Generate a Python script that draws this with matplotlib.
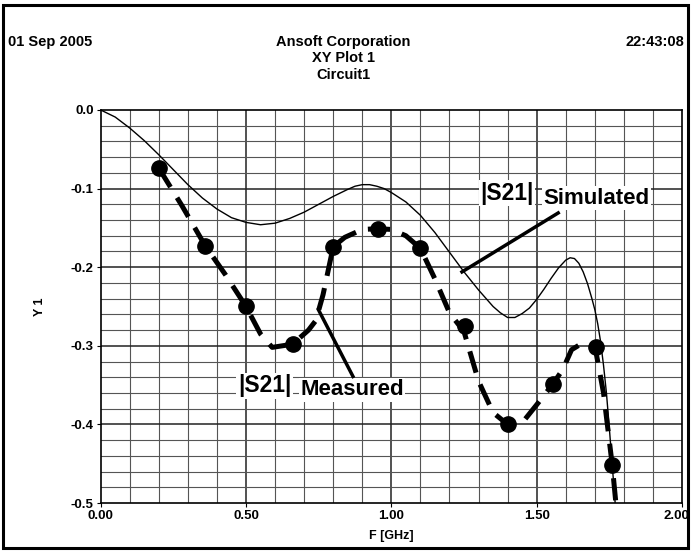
import numpy as np
import matplotlib
matplotlib.use('Agg')
import matplotlib.pyplot as plt
from matplotlib.patches import Rectangle
from matplotlib.transforms import ScaledTranslation

plt.rcParams['font.family'] = ['Liberation Sans', 'DejaVu Sans']
plt.rcParams['font.weight'] = 'bold'
plt.rcParams['lines.scale_dashes'] = False

# simulated |S21| (thin solid curve)
sim_f = [0.00, 0.05, 0.10, 0.15, 0.20, 0.25, 0.30, 0.35, 0.40, 0.45, 0.50, 0.55,
         0.60, 0.65, 0.70, 0.75, 0.80, 0.85, 0.875, 0.90, 0.925, 0.95, 0.975,
         1.00, 1.05, 1.10, 1.15, 1.20, 1.25, 1.30, 1.35, 1.375, 1.40, 1.425,
         1.45, 1.475, 1.50, 1.525, 1.55, 1.575, 1.60, 1.615, 1.63, 1.645, 1.66,
         1.675, 1.69, 1.70, 1.71, 1.72, 1.73, 1.74, 1.75, 1.76, 1.77]
sim_y = [0.000, -0.009, -0.023, -0.039, -0.057, -0.076, -0.095, -0.112, -0.126,
         -0.137, -0.143, -0.146, -0.144, -0.138, -0.130, -0.120, -0.110, -0.101,
         -0.097, -0.095, -0.095, -0.097, -0.100, -0.105, -0.117, -0.134, -0.156,
         -0.181, -0.206, -0.229, -0.250, -0.258, -0.264, -0.264, -0.259, -0.252,
         -0.241, -0.228, -0.214, -0.201, -0.191, -0.188, -0.189, -0.195, -0.206,
         -0.221, -0.240, -0.254, -0.272, -0.295, -0.325, -0.360, -0.405, -0.452,
         -0.500]

# measured |S21| (thick dashed curve through the dots)
meas_f = [0.20, 0.28, 0.36, 0.43, 0.50, 0.55, 0.59, 0.66, 0.715, 0.74, 0.765,
          0.80, 0.84, 0.90, 0.955, 1.00, 1.05, 1.10, 1.15, 1.20, 1.25, 1.30,
          1.35, 1.40, 1.45, 1.50, 1.555, 1.59, 1.62, 1.66, 1.70, 1.73, 1.76, 1.775]
meas_y = [-0.074, -0.122, -0.173, -0.210, -0.250, -0.285, -0.302, -0.298, -0.280,
          -0.268, -0.235, -0.174, -0.162, -0.152, -0.151, -0.152, -0.160, -0.176,
          -0.215, -0.258, -0.282, -0.345, -0.385, -0.400, -0.398, -0.375, -0.349,
          -0.330, -0.305, -0.296, -0.300, -0.360, -0.452, -0.510]

# measured sample points
pt_f = [0.20, 0.36, 0.50, 0.66, 0.80, 0.955, 1.10, 1.254, 1.40, 1.555, 1.705, 1.76]
pt_y = [-0.074, -0.173, -0.250, -0.298, -0.174, -0.151, -0.176, -0.275, -0.400,
        -0.349, -0.302, -0.452]

fig = plt.figure(figsize=(6.91, 5.51), dpi=100)
ax = fig.add_axes([0.1457, 0.0871, 0.8413, 0.7133])

# grid
for v in np.arange(0.1, 2.0, 0.1):
    major = abs(v / 0.5 - round(v / 0.5)) < 1e-6
    ax.axvline(v, color='#222222' if major else '#555555',
               lw=1.1 if major else 0.8, zorder=0)
for v in np.arange(-0.48, 0.0, 0.02):
    major = abs(v / 0.1 - round(v / 0.1)) < 1e-6
    ax.axhline(v, color='#222222' if major else '#555555',
               lw=1.1 if major else 0.8, zorder=0)

ax.plot(sim_f, sim_y, color='black', lw=1.0, zorder=3)
ax.plot(meas_f, meas_y, color='black', lw=3.6, dashes=(16, 9), zorder=3,
        dash_capstyle='butt')
ax.plot(pt_f, pt_y, 'o', color='black', ms=11, zorder=4)

# annotations
box = dict(facecolor='white', edgecolor='none', pad=1)
ax.text(1.305, -0.106, '|S21|', fontsize=16.5, ha='left', va='center', bbox=box, zorder=5)
ax.text(1.522, -0.112, 'Simulated', fontsize=16, ha='left', va='center', bbox=box, zorder=5)
ax.plot([1.574, 1.243], [-0.131, -0.206], color='black', lw=2.5, zorder=5)

ax.text(0.472, -0.351, '|S21|', fontsize=16.5, ha='left', va='center', bbox=box, zorder=5)
ax.text(0.686, -0.356, 'Measured', fontsize=16, ha='left', va='center', bbox=box, zorder=5)
ax.plot([0.749, 0.868], [-0.254, -0.339], color='black', lw=2.5, zorder=5)

ax.set_xlim(0, 2.0)
ax.set_ylim(-0.5, 0.0)
ax.set_xticks([0.0, 0.5, 1.0, 1.5, 2.0])
ax.set_xticklabels(['0.00', '0.50', '1.00', '1.50', '2.00'])
ax.set_yticks([0.0, -0.1, -0.2, -0.3, -0.4, -0.5])
ax.set_yticklabels(['0.0', '-0.1', '-0.2', '-0.3', '-0.4', '-0.5'])
ax.tick_params(axis='both', labelsize=9.5, length=3, width=0.8, pad=2)
last = ax.get_xticklabels()[-1]
last.set_transform(last.get_transform() + ScaledTranslation(-6 / 100, 0, fig.dpi_scale_trans))
ax.set_xlabel('F [GHz]', fontsize=9, fontweight='bold', labelpad=6)
ax.set_ylabel('Y 1', fontsize=9, fontweight='bold', labelpad=18)
for s in ax.spines.values():
    s.set_linewidth(1.2)

# header
fig.text(8 / 691, 1 - 42 / 551, '01 Sep 2005', fontsize=10.5, ha='left', va='center')
fig.text(684 / 691, 1 - 42 / 551, '22:43:08', fontsize=10.5, ha='right', va='center')
fig.text(343 / 691, 1 - 42 / 551, 'Ansoft Corporation', fontsize=10.5, ha='center', va='center')
fig.text(343 / 691, 1 - 58 / 551, 'XY Plot 1', fontsize=10.5, ha='center', va='center')
fig.text(343 / 691, 1 - 75 / 551, 'Circuit1', fontsize=10.5, ha='center', va='center')

fig.patches.append(Rectangle((3 / 691, 3 / 551), 685 / 691, 543 / 551,
                             transform=fig.transFigure, fill=False,
                             edgecolor='black', lw=2.2))

fig.savefig('out.png', dpi=100)
